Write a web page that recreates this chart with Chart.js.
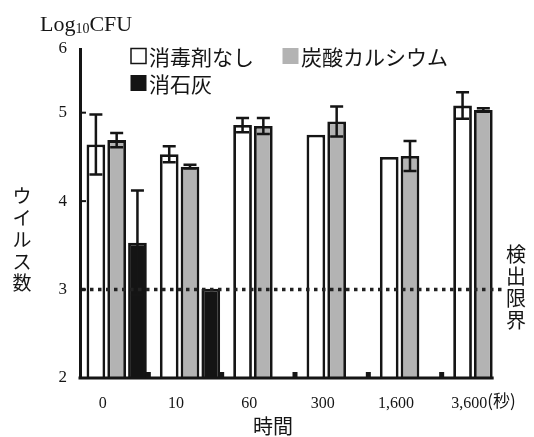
<!DOCTYPE html>
<html>
<head>
<meta charset="utf-8">
<script src="https://cdn.jsdelivr.net/npm/chart.js@4/dist/chart.umd.min.js"></script>
<style>
  html, body { margin: 0; padding: 0; background: #fff; }
  #wrap { width: 534px; height: 437px; position: relative; }
</style>
</head>
<body>
<div id="wrap"><canvas id="c" width="534" height="437"></canvas></div>
<script>
// ---- data ----
const categories = ['0', '10', '60', '300', '1,600', '3,600'];
const unitLabel = '(秒)';
const seriesNames = ['消毒剤なし', '炭酸カルシウム', '消石灰'];
const noneValues  = [4.64, 4.53, 4.86, 4.75, 4.50, 5.08];
const noneErrors  = [0.34, 0.09, 0.08, null, null, 0.15];
const caco3Values = [4.69, 4.39, 4.85, 4.90, 4.51, 5.03];
const caco3Errors = [0.08, 0.02, 0.09, 0.17, 0.17, 0.02];
const limeValues  = [3.53, 3.01, null, null, null, null];
const limeErrors  = [0.59, null, null, null, null, null];
const yTickValues = [2, 3, 4, 5, 5.72];
const yTickLabels = ['2', '3', '4', '5', '6'];
const detectionLimit = 3;
const errorsBySeries = [noneErrors, caco3Errors, limeErrors];

const CJK = '"Noto Sans CJK JP", "Noto Sans CJK SC", sans-serif';
const SERIF = '"Liberation Serif", "DejaVu Serif", serif';
const INK = '#151515';

const overlay = {
  id: 'overlay',
  afterDatasetsDraw(chart) {
    const ctx = chart.ctx, ca = chart.chartArea;
    const xs = chart.scales.x, ys = chart.scales.y;
    ctx.save();
    // error bars
    ctx.strokeStyle = INK; ctx.lineWidth = 2.5;
    chart.data.datasets.forEach((ds, di) => {
      const meta = chart.getDatasetMeta(di);
      const errs = errorsBySeries[di];
      ds.data.forEach((v, i) => {
        const e = errs[i];
        if (v == null || e == null) return;
        const x = meta.data[i].x;
        const yt = ys.getPixelForValue(v + e), yb = ys.getPixelForValue(v - e);
        ctx.beginPath();
        ctx.moveTo(x, yt); ctx.lineTo(x, yb);
        ctx.moveTo(x - 6.5, yt); ctx.lineTo(x + 6.5, yt);
        ctx.moveTo(x - 6.5, yb); ctx.lineTo(x + 6.5, yb);
        ctx.stroke();
      });
    });
    // detection limit dotted line
    const yd = ys.getPixelForValue(detectionLimit);
    ctx.setLineDash([3.5, 4.5]);
    ctx.lineWidth = 3.5; ctx.strokeStyle = '#222';
    ctx.beginPath(); ctx.moveTo(ca.left + 2, yd); ctx.lineTo(ca.right - 15, yd); ctx.stroke();
    ctx.setLineDash([]);
    // baseline (x axis) up to the last bar
    const grayMeta = chart.getDatasetMeta(1);
    const last = grayMeta.data[grayMeta.data.length - 1];
    ctx.lineWidth = 3; ctx.strokeStyle = INK;
    ctx.beginPath(); ctx.moveTo(ca.left - 1.5, ca.bottom); ctx.lineTo(last.x + last.width / 2 + 1, ca.bottom); ctx.stroke();
    // small marks between groups
    ctx.fillStyle = INK;
    for (let k = 1; k < categories.length; k++) {
      const bx = (xs.getPixelForValue(k - 1) + xs.getPixelForValue(k)) / 2 - 5;
      ctx.fillRect(bx - 2.5, ca.bottom - 6, 5, 6);
    }
    // inner y ticks
    ctx.lineWidth = 2;
    [3, 4, 5].forEach(v => {
      const y = ys.getPixelForValue(v);
      ctx.beginPath(); ctx.moveTo(ca.left, y); ctx.lineTo(ca.left + 6, y); ctx.stroke();
    });
    ctx.restore();
  },
  afterDraw(chart) {
    const ctx = chart.ctx, xs = chart.scales.x;
    ctx.save();
    ctx.fillStyle = INK;
    // Log10CFU
    ctx.textBaseline = 'alphabetic'; ctx.textAlign = 'left';
    ctx.font = '22px ' + SERIF;
    let x = 40;
    ctx.fillText('Log', x, 31); x += ctx.measureText('Log').width;
    ctx.font = '14px ' + SERIF;
    ctx.fillText('10', x, 33); x += ctx.measureText('10').width;
    ctx.font = '22px ' + SERIF;
    ctx.fillText('CFU', x, 31);
    // legend
    ctx.font = '21px ' + CJK;
    ctx.textBaseline = 'middle';
    const rows = [[0, 1], [2]];
    const rowY = [56, 83];
    rows.forEach((row, r) => {
      let lx = 130;
      row.forEach(di => {
        const ds = chart.data.datasets[di];
        const by = rowY[r] - 8;
        if (di === 0) {
          ctx.strokeStyle = INK; ctx.lineWidth = 1.5;
          ctx.strokeRect(lx + 1, by + 0.5, 15, 15);
        } else {
          ctx.fillStyle = ds.backgroundColor;
          ctx.fillRect(lx + 0.5, by, 16, 16);
        }
        ctx.fillStyle = INK;
        ctx.fillText(ds.label, lx + 19, rowY[r] + 1);
        lx += 19 + ctx.measureText(ds.label).width + 28;
      });
    });
    // vertical y title
    ctx.textAlign = 'center';
    ctx.font = '19px ' + CJK;
    Array.from('ウイルス数').forEach((ch, i) => ctx.fillText(ch, 22, 196 + i * 21.8));
    // detection limit label
    ctx.font = '20px ' + CJK;
    Array.from('検出限界').forEach((ch, i) => ctx.fillText(ch, 516, 254 + i * 22.3));
    // x title
    ctx.fillText('時間', 273, 426);
    // unit after last tick label
    const lastX = xs.getPixelForValue(categories.length - 1) + xs.options.ticks.labelOffset;
    ctx.font = '16px ' + SERIF;
    const lw = ctx.measureText(categories[categories.length - 1]).width;
    ctx.font = '17px ' + CJK;
    ctx.textAlign = 'left';
    ctx.fillText(unitLabel, lastX + lw / 2, 401);
    ctx.restore();
  }
};

new Chart(document.getElementById('c'), {
  type: 'bar',
  data: {
    labels: categories,
    datasets: [
      { label: seriesNames[0], data: noneValues, backgroundColor: '#ffffff' },
      { label: seriesNames[1], data: caco3Values, backgroundColor: '#b3b3b3' },
      { label: seriesNames[2], data: limeValues, backgroundColor: '#141414' }
    ].map(d => Object.assign(d, {
      borderColor: INK, borderWidth: 2.8, borderSkipped: false,
      categoryPercentage: 0.85, barPercentage: 0.9
    }))
  },
  options: {
    responsive: false,
    animation: false,
    devicePixelRatio: 1,
    layout: { padding: { left: 0, right: 14, top: 49, bottom: 0 } },
    plugins: { legend: { display: false }, tooltip: { enabled: false } },
    scales: {
      x: {
        offset: true,
        grid: { display: false, drawTicks: false },
        border: { display: false },
        ticks: { color: INK, font: { family: SERIF, size: 16 }, padding: 16, labelOffset: -14, maxRotation: 0, autoSkip: false },
        afterFit: s => { s.height = 59; }
      },
      y: {
        min: 2, max: 5.72,
        grid: { display: false, drawTicks: false },
        border: { display: true, color: INK, width: 3 },
        afterBuildTicks: s => { s.ticks = yTickValues.map(v => ({ value: v })); },
        ticks: {
          color: INK, font: { family: SERIF, size: 17 }, padding: 13,
          callback: (v, i) => yTickLabels[i]
        },
        afterFit: s => { s.width = 80; }
      }
    }
  },
  plugins: [overlay]
});
</script>
</body>
</html>
